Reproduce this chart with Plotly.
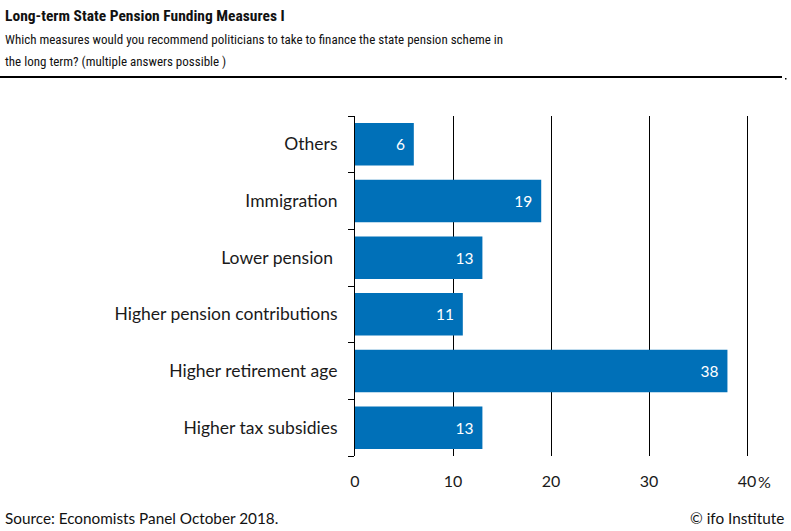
import plotly.graph_objects as go

categories = ["Higher tax subsidies", "Higher retirement age", "Higher pension contributions",
              "Lower pension ", "Immigration", "Others"]
values = [13, 38, 11, 13, 19, 6]
tick_vals = [0, 10, 20, 30, 40]
tick_text = ["0", "10", "20", "30", "40"]

title = "Long-term State Pension Funding Measures I"
subtitle1 = "Which measures would you recommend politicians to take to finance the state pension scheme in"
subtitle2 = "the long term? (multiple answers possible )"
source = "Source: Economists Panel October 2018."
credit = "© ifo Institute"

W, H = 791, 531
L, R, T, B = 355, 42, 116, 75
PW, PH = W - L - R, H - T - B
XMAX = 40.2

def px(x):
    return (x - L) / PW

def py(y):
    return (H - B - y) / PH

BLUE = "#0070b8"
BODY = "Lato, 'Open Sans', sans-serif"
HEAD = "'Liberation Sans Narrow', 'Arial Narrow', 'Roboto Condensed', sans-serif"

fig = go.Figure()
fig.add_trace(go.Bar(
    y=categories, x=values, orientation="h",
    marker=dict(color=BLUE, line=dict(width=0)),
    texttemplate="%{x}\u00a0\u2009", textposition="inside", insidetextanchor="end",
    textfont=dict(color="white", size=15.5, family=BODY),
    cliponaxis=False, hoverinfo="skip",
))

fig.update_layout(
    width=W, height=H,
    margin=dict(l=L, r=R, t=T, b=B),
    paper_bgcolor="white", plot_bgcolor="white",
    bargap=0.25, showlegend=False,
    font=dict(family=BODY, size=16, color="#1a1a1a"),
    xaxis=dict(range=[0, XMAX], tickvals=tick_vals, ticktext=tick_text,
               showgrid=True, gridcolor="black", gridwidth=1, zeroline=False,
               showline=False, ticks="", ticklabelstandoff=14,
               tickfont=dict(size=16, family=BODY, color="#1a1a1a"), fixedrange=True),
    yaxis=dict(showline=True, linecolor="black", linewidth=1,
               ticks="outside", tickson="boundaries", ticklen=6, tickcolor="black",
               showgrid=False, ticklabelstandoff=13,
               tickfont=dict(size=17.5, family=BODY, color="#1a1a1a"), fixedrange=True),
)

anns = [
    dict(text="<b>" + title + "</b>", x=px(3), y=py(16), xanchor="left", yanchor="middle",
         font=dict(family=HEAD, size=15.5, color="#111")),
    dict(text=subtitle1, x=px(3), y=py(40), xanchor="left", yanchor="middle",
         font=dict(family=HEAD, size=13, color="#111")),
    dict(text=subtitle2, x=px(3), y=py(62), xanchor="left", yanchor="middle",
         font=dict(family=HEAD, size=13, color="#111")),
    dict(text=source, x=px(3), y=py(518), xanchor="left", yanchor="middle",
         font=dict(family=BODY, size=15.3, color="#111")),
    dict(text=credit, x=px(786), y=py(518), xanchor="right", yanchor="middle",
         font=dict(family=BODY, size=15.3, color="#111")),
    dict(text="%", x=40, y=py(481), xref="x", xanchor="left", yanchor="middle", xshift=9,
         font=dict(family=BODY, size=16, color="#1a1a1a")),
]
for a in anns:
    a.setdefault("xref", "paper")
    a["yref"] = "paper"
    a["showarrow"] = False
    fig.add_annotation(**a)

fig.add_shape(type="line", xref="paper", yref="paper", x0=px(0), x1=px(782), y0=py(77), y1=py(77),
              line=dict(color="black", width=2))
fig.add_shape(type="rect", xref="paper", yref="paper", x0=px(785), x1=px(786.5), y0=py(78), y1=py(79.5),
              line=dict(width=0), fillcolor="black")

fig.write_html("out.html", config={"displayModeBar": False},
               post_script="document.body.style.margin='0';document.body.style.overflow='hidden';")
